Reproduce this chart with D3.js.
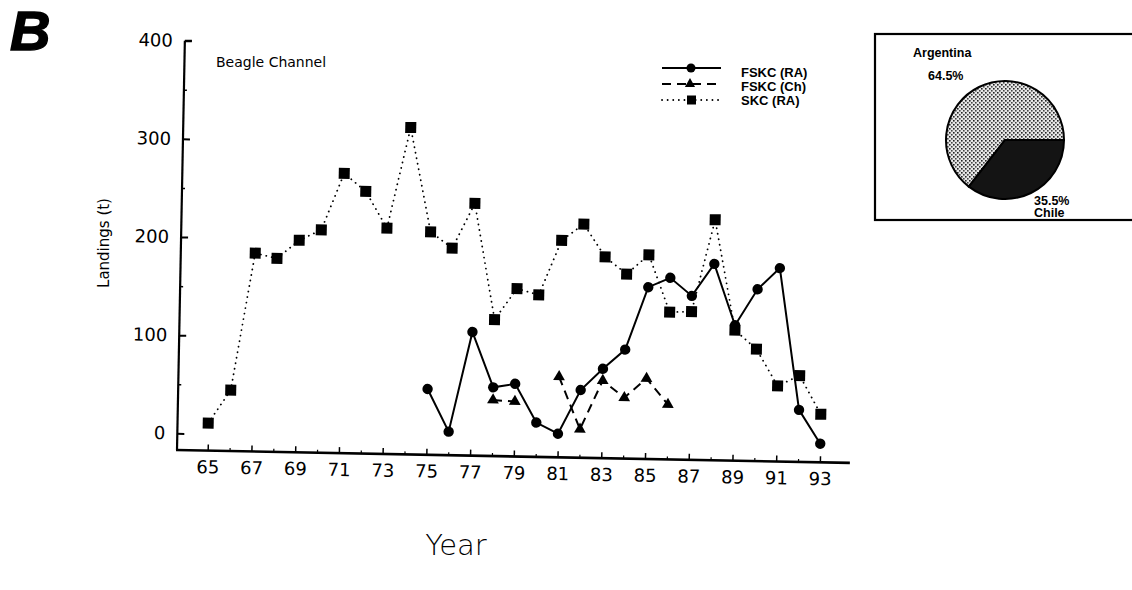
<!DOCTYPE html>
<html>
<head>
<meta charset="utf-8">
<script src="https://cdn.jsdelivr.net/npm/d3@7"></script>
<style>
  body { margin: 0; background: #fff; }
  svg { display: block; }
</style>
</head>
<body>
<div id="chart"></div>
<script>
/*** DADOS ***/
var years = [65, 66, 67, 68, 69, 70, 71, 72, 73, 74, 75, 76, 77, 78, 79, 80, 81, 82, 83, 84, 85, 86, 87, 88, 89, 90, 91, 92, 93];
var skc = [11, 45, 185, 180, 199, 210, 268, 250, 213, 316, 210, 194, 240, 122, 154, 148, 204, 221, 188, 171, 191, 133, 134, 228, 116, 97, 60, 71, 32];

var yearsRA = [75, 76, 77, 78, 79, 80, 81, 82, 83, 84, 85, 86, 87, 88, 89, 90, 91, 92, 93];
var fskcRA = [50, 7, 109, 53, 57, 18, 7, 52, 74, 94, 158, 168, 150, 183, 121, 158, 180, 36, 2];

var yearsCh = [78, 79, 80, 81, 82, 83, 84, 85, 86];
var fskcCh = [40, 39, null, 65, 12, 62, 45, 65, 39];

var yTicks = [0, 100, 200, 300, 400];
var yMinor = [50, 150, 250, 350];
var xTicks = [65, 67, 69, 71, 73, 75, 77, 79, 81, 83, 85, 87, 89, 91, 93];
var xMinor = [66, 68, 70, 72, 74, 76, 78, 80, 82, 84, 86, 88, 90, 92];

var legendNames = ["FSKC (RA)", "FSKC (Ch)", "SKC (RA)"];
var pieNames = ["Argentina", "Chile"];
var pieValues = [64.5, 35.5];
var piePct = ["64.5%", "35.5%"];

var width = 1132, height = 590;
var font = "'Liberation Sans', Arial, sans-serif";
var tickFont = "'DejaVu Sans', sans-serif";

var svg = d3.select('#chart').append('svg')
    .attr('width', width)
    .attr('height', height);

// padrao pontilhado para a fatia da Argentina
var defs = svg.append('defs');
var pat = defs.append('pattern')
    .attr('id', 'stip')
    .attr('patternUnits', 'userSpaceOnUse')
    .attr('width', 4).attr('height', 4);
pat.append('rect').attr('width', 4).attr('height', 4).attr('fill', '#e6e6e6');
pat.append('rect').attr('x', 0).attr('y', 0).attr('width', 1.6).attr('height', 1.6).attr('fill', '#222');
pat.append('rect').attr('x', 2).attr('y', 2).attr('width', 1.6).attr('height', 1.6).attr('fill', '#444');

/*** ESCALAS ***/
var x = d3.scaleLinear().domain([65, 93]).range([207.7, 820]);
var y = d3.scaleLinear().domain([0, 400]).range([433.3, 40.6]);

var ox = 177, oy = 450;

// o scan esta ligeiramente rodado
var plot = svg.append('g')
    .attr('transform', 'rotate(1.1,' + ox + ',' + oy + ')');

// linhas dos eixos
plot.append('line')
    .attr('x1', ox).attr('x2', ox)
    .attr('y1', y(400)).attr('y2', oy)
    .attr('stroke', '#000').attr('stroke-width', 2.2);
plot.append('line')
    .attr('x1', ox - 1).attr('x2', 850)
    .attr('y1', oy).attr('y2', oy)
    .attr('stroke', '#000').attr('stroke-width', 2.6);
plot.append('line')
    .attr('x1', ox).attr('x2', ox + 7)
    .attr('y1', y(400)).attr('y2', y(400))
    .attr('stroke', '#000').attr('stroke-width', 2);

var yAxis = plot.append('g')
    .attr('transform', 'translate(' + ox + ',0)')
    .call(d3.axisLeft(y).tickValues(yTicks).tickSizeInner(-7).tickSizeOuter(0).tickPadding(12));
yAxis.select('.domain').remove();
yAxis.selectAll('line').attr('stroke-width', 2);
yAxis.selectAll('text').attr('font-family', tickFont).attr('font-size', 18).attr('fill', '#000');

var yAxis2 = plot.append('g')
    .attr('transform', 'translate(' + ox + ',0)')
    .call(d3.axisLeft(y).tickValues(yMinor).tickSizeInner(-3).tickSizeOuter(0).tickFormat(''));
yAxis2.select('.domain').remove();
yAxis2.selectAll('line').attr('stroke-width', 1.5);

var xAxis = plot.append('g')
    .attr('transform', 'translate(0,' + oy + ')')
    .call(d3.axisBottom(x).tickValues(xTicks).tickSizeInner(-6).tickSizeOuter(0).tickPadding(10).tickFormat(d3.format('d')));
xAxis.select('.domain').remove();
xAxis.selectAll('line').attr('stroke-width', 1.5);
xAxis.selectAll('text').attr('font-family', tickFont).attr('font-size', 18).attr('fill', '#000');

var xAxis2 = plot.append('g')
    .attr('transform', 'translate(0,' + oy + ')')
    .call(d3.axisBottom(x).tickValues(xMinor).tickSizeInner(-3).tickSizeOuter(0).tickFormat(''));
xAxis2.select('.domain').remove();
xAxis2.selectAll('line').attr('stroke-width', 1.2);

/*** SERIES ***/
function pares(xs, vs) {
    return xs.map(function (d, i) { return { ano: d, v: vs[i] }; });
}
var dSKC = pares(years, skc);
var dRA = pares(yearsRA, fskcRA);
var dCh = pares(yearsCh, fskcCh);

var line = d3.line()
    .defined(function (d) { return d.v != null; })
    .x(function (d) { return x(d.ano); })
    .y(function (d) { return y(d.v); });

plot.append('path').datum(dSKC)
    .attr('d', line).attr('fill', 'none')
    .attr('stroke', '#000').attr('stroke-width', 1.8)
    .attr('stroke-linecap', 'round')
    .attr('stroke-dasharray', '0.1,5.5');

plot.append('path').datum(dCh)
    .attr('d', line).attr('fill', 'none')
    .attr('stroke', '#000').attr('stroke-width', 2)
    .attr('stroke-dasharray', '9,6');

plot.append('path').datum(dRA)
    .attr('d', line).attr('fill', 'none')
    .attr('stroke', '#000').attr('stroke-width', 2);

plot.selectAll('rect.sq').data(dSKC).enter().append('rect')
    .attr('class', 'sq')
    .attr('x', function (d) { return x(d.ano) - 5.5; })
    .attr('y', function (d) { return y(d.v) - 5.5; })
    .attr('width', 11).attr('height', 11)
    .attr('fill', '#000');

plot.selectAll('circle.ra').data(dRA).enter().append('circle')
    .attr('class', 'ra')
    .attr('cx', function (d) { return x(d.ano); })
    .attr('cy', function (d) { return y(d.v); })
    .attr('r', 5.2)
    .attr('fill', '#000');

var tri = d3.symbol().type(d3.symbolTriangle).size(60);
plot.selectAll('path.ch').data(dCh.filter(function (d) { return d.v != null; })).enter().append('path')
    .attr('class', 'ch')
    .attr('d', tri)
    .attr('transform', function (d) { return 'translate(' + x(d.ano) + ',' + y(d.v) + ')'; })
    .attr('fill', '#000');

/*** TEXTOS ***/
svg.append('text')
    .attr('x', 10).attr('y', 50)
    .attr('font-family', font).attr('font-size', 56)
    .attr('font-weight', 'bold').attr('font-style', 'italic')
    .attr('stroke', '#000').attr('stroke-width', 1.5)
    .text('B');

svg.append('text')
    .attr('x', 216).attr('y', 61.7).attr('dy', '0.35em')
    .attr('font-family', tickFont).attr('font-size', 14)
    .text('Beagle Channel');

svg.append('text')
    .attr('transform', 'translate(104,243) rotate(-90)')
    .attr('text-anchor', 'middle').attr('dy', '0.35em')
    .attr('font-family', tickFont).attr('font-size', 15)
    .text('Landings (t)');

svg.append('text')
    .attr('x', 456).attr('y', 545).attr('dy', '0.35em')
    .attr('text-anchor', 'middle')
    .attr('font-family', tickFont).attr('font-weight', 200).attr('font-size', 29)
    .text('Year');

/*** LEGENDA ***/
var legY = [68, 84, 100];
var legTxtY = [72, 86, 100];
var dashes = [null, '9,6', '0.1,5.5'];
var leg = svg.append('g');
legendNames.forEach(function (nome, i) {
    leg.append('line')
        .attr('x1', 662).attr('x2', 721)
        .attr('y1', legY[i]).attr('y2', legY[i])
        .attr('stroke', '#000')
        .attr('stroke-width', i == 2 ? 1.8 : 2)
        .attr('stroke-linecap', i == 2 ? 'round' : 'butt')
        .attr('stroke-dasharray', dashes[i]);
    if (i == 0) {
        leg.append('circle').attr('cx', 691).attr('cy', legY[i]).attr('r', 4.5);
    } else if (i == 1) {
        leg.append('path').attr('d', d3.symbol().type(d3.symbolTriangle).size(45))
            .attr('transform', 'translate(690,' + legY[i] + ')');
    } else {
        leg.append('rect').attr('x', 687).attr('y', legY[i] - 4.5).attr('width', 9).attr('height', 9);
    }
    leg.append('text')
        .attr('x', 741).attr('y', legTxtY[i]).attr('dy', '0.35em')
        .attr('font-family', font).attr('font-size', 13).attr('font-weight', 'bold')
        .text(nome);
});

/*** PIE ***/
var box = svg.append('g');
box.append('rect')
    .attr('x', 875).attr('y', 34)
    .attr('width', 280).attr('height', 186)
    .attr('fill', '#fff').attr('stroke', '#000').attr('stroke-width', 2.2);

var pie = d3.pie().sort(null)
    .startAngle(-142.2 * Math.PI / 180)
    .endAngle(-142.2 * Math.PI / 180 + 2 * Math.PI);
var arc = d3.arc().innerRadius(0).outerRadius(59);
var cores = ['url(#stip)', '#141414'];

box.append('g')
    .attr('transform', 'translate(1005,140)')
    .selectAll('path')
    .data(pie(pieValues))
    .enter()
    .append('path')
    .attr('d', arc)
    .attr('fill', function (d, i) { return cores[i]; })
    .attr('stroke', '#000').attr('stroke-width', 2);

box.append('text')
    .attr('x', 913).attr('y', 53).attr('dy', '0.35em')
    .attr('font-family', font).attr('font-size', 12.5).attr('font-weight', 'bold')
    .text(pieNames[0]);
box.append('text')
    .attr('x', 928).attr('y', 76).attr('dy', '0.35em')
    .attr('font-family', font).attr('font-size', 12.5).attr('font-weight', 'bold')
    .text(piePct[0]);
box.append('text')
    .attr('x', 1034).attr('y', 201).attr('dy', '0.35em')
    .attr('font-family', font).attr('font-size', 12.5).attr('font-weight', 'bold')
    .text(piePct[1]);
box.append('text')
    .attr('x', 1034).attr('y', 213).attr('dy', '0.35em')
    .attr('font-family', font).attr('font-size', 12.5).attr('font-weight', 'bold')
    .text(pieNames[1]);
</script>
</body>
</html>
